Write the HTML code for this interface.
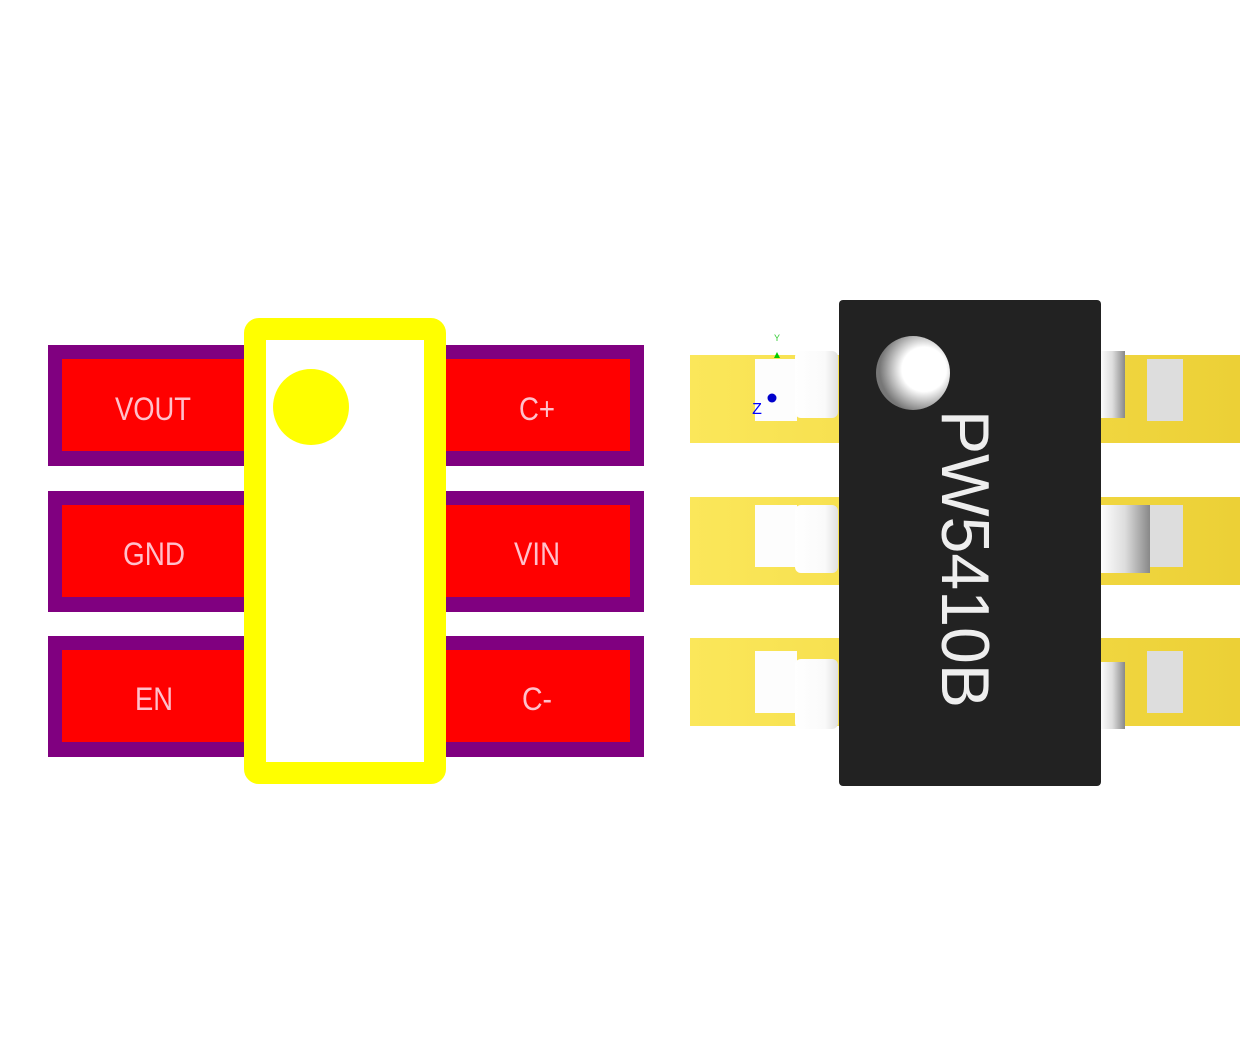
<!DOCTYPE html>
<html><head><style>html,body{margin:0;padding:0;background:#fff}svg{display:block}</style></head>
<body>
<svg width="1255" height="1045" viewBox="0 0 1255 1045" xmlns="http://www.w3.org/2000/svg">
<defs>
<linearGradient id="gold" x1="0" y1="0" x2="1" y2="0"><stop offset="0" stop-color="#fbe75a"/><stop offset="1" stop-color="#ecd036"/></linearGradient>
<linearGradient id="leadL" x1="0" y1="0" x2="1" y2="0"><stop offset="0" stop-color="#fff"/><stop offset="0.7" stop-color="#fafafa"/><stop offset="1" stop-color="#e0e0e0"/></linearGradient>
<linearGradient id="leadR" x1="0" y1="0" x2="1" y2="0"><stop offset="0" stop-color="#fff"/><stop offset="0.5" stop-color="#ddd"/><stop offset="1" stop-color="#888"/></linearGradient>
<radialGradient id="dot" cx="0.65" cy="0.45" r="0.6"><stop offset="0.5" stop-color="#fff"/><stop offset="1" stop-color="#777"/></radialGradient>
</defs>
<g>
<rect x="48" y="345" width="196" height="121" fill="#800080"/><rect x="62" y="359" width="182" height="92" fill="#f00"/>
<rect x="48" y="491" width="196" height="121" fill="#800080"/><rect x="62" y="505" width="182" height="92" fill="#f00"/>
<rect x="48" y="636" width="196" height="121" fill="#800080"/><rect x="62" y="650" width="182" height="92" fill="#f00"/>
<rect x="446" y="345" width="198" height="121" fill="#800080"/><rect x="446" y="359" width="184" height="92" fill="#f00"/>
<rect x="446" y="491" width="198" height="121" fill="#800080"/><rect x="446" y="505" width="184" height="92" fill="#f00"/>
<rect x="446" y="636" width="198" height="121" fill="#800080"/><rect x="446" y="650" width="184" height="92" fill="#f00"/>
<rect x="255" y="329" width="180" height="444" rx="4" fill="#fff" stroke="#ff0" stroke-width="22"/>
<circle cx="311" cy="407" r="38" fill="#ff0"/>
<g font-family="Liberation Sans, sans-serif" font-size="32" fill="#ffc0cb" lengthAdjust="spacingAndGlyphs">
<text x="115" y="420" textLength="76" lengthAdjust="spacingAndGlyphs">VOUT</text>
<text x="123" y="565" textLength="62" lengthAdjust="spacingAndGlyphs">GND</text>
<text x="135" y="710" textLength="38" lengthAdjust="spacingAndGlyphs">EN</text>
<text x="519" y="420" textLength="36" lengthAdjust="spacingAndGlyphs">C+</text>
<text x="514" y="565" textLength="46" lengthAdjust="spacingAndGlyphs">VIN</text>
<text x="522" y="710" textLength="30" lengthAdjust="spacingAndGlyphs">C-</text>
</g>
</g>
<g>
<rect x="690" y="355" width="550" height="88" fill="url(#gold)"/>
<rect x="690" y="497" width="550" height="88" fill="url(#gold)"/>
<rect x="690" y="638" width="550" height="88" fill="url(#gold)"/>
<g fill="#fdfdfd">
<rect x="755" y="359" width="42" height="62"/><rect x="755" y="505" width="42" height="62"/><rect x="755" y="651" width="42" height="62"/>
</g>
<g fill="url(#leadL)">
<rect x="795" y="351" width="43" height="67" rx="6"/><rect x="795" y="505" width="43" height="68" rx="6"/><rect x="795" y="659" width="43" height="70" rx="6"/>
</g>
<g fill="#ddd">
<rect x="1147" y="359" width="36" height="62"/><rect x="1147" y="505" width="36" height="62"/><rect x="1147" y="651" width="36" height="62"/>
</g>
<g fill="url(#leadR)">
<rect x="1100" y="351" width="25" height="67"/><rect x="1100" y="505" width="50" height="68"/><rect x="1100" y="662" width="25" height="67"/>
</g>
<rect x="839" y="300" width="262" height="486" rx="4" fill="#222"/>
<circle cx="913" cy="373" r="37" fill="url(#dot)"/>
<text transform="translate(942,559) rotate(90)" font-family="Liberation Sans, sans-serif" font-size="68" fill="#eee" text-anchor="middle" textLength="298" lengthAdjust="spacingAndGlyphs">PW5410B</text>
<text x="777" y="341" font-family="Liberation Sans, sans-serif" font-size="9" fill="#3c3" text-anchor="middle">Y</text>
<polygon points="774,358 780,358 777,352" fill="#0c0"/>
<circle cx="772" cy="398" r="4.5" fill="#00c"/>
<text x="757" y="414" font-family="Liberation Sans, sans-serif" font-size="16" fill="#00f" text-anchor="middle">Z</text>
</g>
</svg>
</body></html>
